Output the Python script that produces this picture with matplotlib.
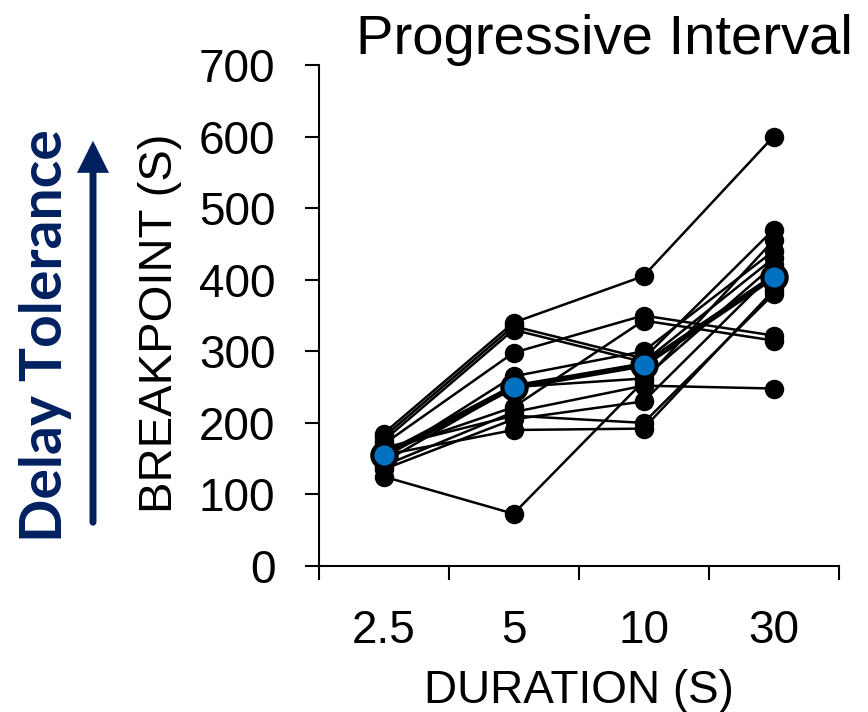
import matplotlib
matplotlib.use('Agg')
import matplotlib.pyplot as plt
from matplotlib.patches import FancyArrowPatch, ArrowStyle

# durations on the x axis (s)
durations = ['2.5', '5', '10', '30']

# breakpoint of each subject at each duration (s)
bp_2_5 = [185, 125, 180, 175, 170, 160, 150, 140, 135, 155, 165, 145]
bp_5 = [340, 73, 335, 330, 298, 222, 265, 215, 205, 190, 210, 250]
bp_10 = [405, 258, 290, 285, 350, 343, 300, 252, 230, 192, 200, 262]
bp_30 = [600, 455, 470, 430, 322, 315, 440, 248, 410, 385, 380, 420]

# group mean
bp_mean = [155, 250, 281, 404]

navy = '#002060'
blue = '#0070C0'

plt.rcParams['font.family'] = ['Liberation Sans', 'DejaVu Sans']

fig = plt.figure(figsize=(8.68, 7.12), dpi=100)
W, H = 868., 712.
ax = fig.add_axes([318.5 / W, 146 / H, 520 / W, 501 / H])

xs = list(range(len(durations)))
for i in range(len(bp_5)):
    ax.plot(xs, [bp_2_5[i], bp_5[i], bp_10[i], bp_30[i]],
            color='k', lw=1.8, marker='o', ms=13, mec='k', zorder=2, clip_on=False)

ax.plot(xs, bp_mean, color='k', lw=4, marker='o', ms=17.5,
        mfc=blue, mec='k', mew=3, zorder=3, clip_on=False)

ax.set_xlim(-0.5, 3.5)
ax.set_ylim(0, 700)
ax.set_yticks(range(0, 701, 100))
ax.set_xticks(xs)
ax.set_xticklabels(durations)
ax.set_xticks([-0.5, 0.5, 1.5, 2.5, 3.5], minor=True)

for s in ['top', 'right']:
    ax.spines[s].set_visible(False)
for s in ['left', 'bottom']:
    ax.spines[s].set_linewidth(1.5)

ax.tick_params(axis='x', which='major', length=0, pad=31, labelsize=33)
ax.tick_params(axis='x', which='minor', length=10, width=1.5, direction='out')
ax.tick_params(axis='y', length=10, width=1.5, direction='out', pad=21, labelsize=33)

ax.set_xlabel('DURATION (S)', fontsize=33)
ax.xaxis.set_label_coords(0.5, -0.205)
ax.set_ylabel('BREAKPOINT (S)', fontsize=34)
ax.yaxis.set_label_coords(-0.262, 0.485)

fig.text(604 / W, 1 - 53.5 / H, 'Progressive Interval', ha='center', va='baseline', fontsize=40.5)

fig.text(46 / W, 1 - 336 / H, 'Delay Tolerance', rotation=90, ha='center', va='center',
         fontsize=41, fontweight='bold', color=navy, family=['Lato', 'DejaVu Sans'])

arr = FancyArrowPatch((93 / W, 1 - 525 / H), (93 / W, 1 - 138 / H), transform=fig.transFigure,
                      arrowstyle=ArrowStyle('-|>', head_length=15, head_width=7.5),
                      mutation_scale=1, lw=5, color=navy, capstyle='round', joinstyle='miter')
fig.patches.append(arr)

fig.savefig('out.png', dpi=100)
